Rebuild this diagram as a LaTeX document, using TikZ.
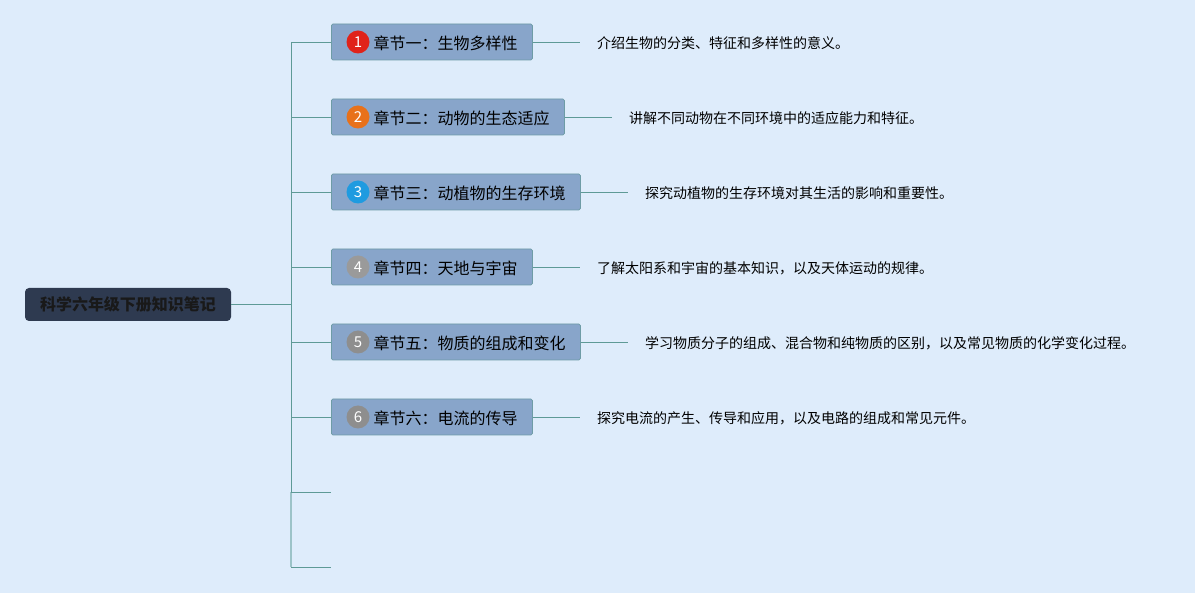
\documentclass[tikz,border=0pt]{standalone}
\usepackage{fontspec}
\setmainfont{Noto Sans CJK SC}
\newfontfamily\cjk{Noto Sans CJK SC}
\definecolor{bg}{HTML}{DEECFB}
\definecolor{rootfill}{HTML}{2E3A50}
\definecolor{boxfill}{HTML}{88A5CA}
\definecolor{boxline}{HTML}{6E9CA6}
\definecolor{conn}{HTML}{5E9A96}
\definecolor{connlight}{HTML}{9CC3C8}
\definecolor{cred}{HTML}{E0231A}
\definecolor{corange}{HTML}{E8711A}
\definecolor{cblue}{HTML}{1F9BE0}
\definecolor{cgray}{HTML}{8E8E8E}
\definecolor{cgrayb}{HTML}{9A9A9A}
\tikzset{
  rootbox/.style={fill=rootfill, rounded corners=4pt, minimum width=206pt, minimum height=33pt, inner sep=0pt, font=\cjk\fontsize{16}{18}\selectfont\bfseries, text=black!90},
  chapbox/.style={fill=boxfill, draw=boxline, line width=0.8pt, rounded corners=1.5pt, minimum height=36pt, inner sep=0pt, anchor=west},
  chaptext/.style={font=\cjk\fontsize{16}{18}\selectfont, text=black, anchor=west, inner sep=0pt},
  numcirc/.style={circle, minimum size=23pt, inner sep=0pt, font=\cjk\fontsize{15}{16}\selectfont, text=white},
  desc/.style={font=\cjk\fontsize{14}{16}\selectfont, text=black, anchor=west, inner sep=0pt},
  conline/.style={draw=conn, line width=0.9pt},
}
\begin{document}
\begin{tikzpicture}[x=1pt,y=-1pt]
\fill[bg] (0,0) rectangle (1195,593);
\useasboundingbox (0,0) rectangle (1195,593);

\node[rootbox] (root) at (128,304.5) {科学六年级下册知识笔记};

\coordinate (ttop) at (291,42);
\coordinate (tmid) at (291,304.5);
\coordinate (t7) at (291,492);
\coordinate (t8) at (291,567);
\coordinate (e7) at (331,492);
\coordinate (e8) at (331,567);

\draw[conline] (root.east) -- (tmid);
\draw[conline] (ttop) -- (t7);
\draw[draw=connlight, line width=1.2pt] (t7) -- (t8);
\draw[conline] (t7) -- (e7);
\draw[conline] (t8) -- (e8);

% chapter boxes
\node[chapbox, minimum width=201pt] (c1) at (331,42) {};
\node[chapbox, minimum width=233pt] (c2) at (331,117) {};
\node[chapbox, minimum width=249pt] (c3) at (331,192) {};
\node[chapbox, minimum width=201pt] (c4) at (331,267) {};
\node[chapbox, minimum width=249pt] (c5) at (331,342) {};
\node[chapbox, minimum width=201pt] (c6) at (331,417) {};

\foreach \n in {1,...,6} {
  \coordinate (b\n) at (291,{42+75*(\n-1)});
  \draw[conline] (b\n) -- (c\n.west);
}

\node[numcirc, fill=cred] (n1) at (358,42) {1};
\node[numcirc, fill=corange] (n2) at (358,117) {2};
\node[numcirc, fill=cblue] (n3) at (358,192) {3};
\node[numcirc, fill=cgrayb] (n4) at (358,267) {4};
\node[numcirc, fill=cgray] (n5) at (358,342) {5};
\node[numcirc, fill=cgray] (n6) at (358,417) {6};

\node[chaptext] (t1) at (373.5,43) {章节一：生物多样性};
\node[chaptext] (t2) at (373.5,118) {章节二：动物的生态适应};
\node[chaptext] (t3) at (373.5,193) {章节三：动植物的生存环境};
\node[chaptext] (t4) at (373.5,268) {章节四：天地与宇宙};
\node[chaptext] (t5) at (373.5,343) {章节五：物质的组成和变化};
\node[chaptext] (t6) at (373.5,418) {章节六：电流的传导};

% descriptions
\coordinate (d1s) at (580,42);
\coordinate (d2s) at (612,117);
\coordinate (d3s) at (628,192);
\coordinate (d4s) at (580,267);
\coordinate (d5s) at (628,342);
\coordinate (d6s) at (580,417);
\foreach \n in {1,...,6} { \draw[conline] (c\n.east) -- (d\n s); }

\node[desc] (d1) at (597,43) {介绍生物的分类、特征和多样性的意义。};
\node[desc] (d2) at (629,118) {讲解不同动物在不同环境中的适应能力和特征。};
\node[desc] (d3) at (645,193) {探究动植物的生存环境对其生活的影响和重要性。};
\node[desc] (d4) at (597,268) {了解太阳系和宇宙的基本知识，以及天体运动的规律。};
\node[desc] (d5) at (645,343) {学习物质分子的组成、混合物和纯物质的区别，以及常见物质的化学变化过程。};
\node[desc] (d6) at (597,418) {探究电流的产生、传导和应用，以及电路的组成和常见元件。};
\end{tikzpicture}
\end{document}
